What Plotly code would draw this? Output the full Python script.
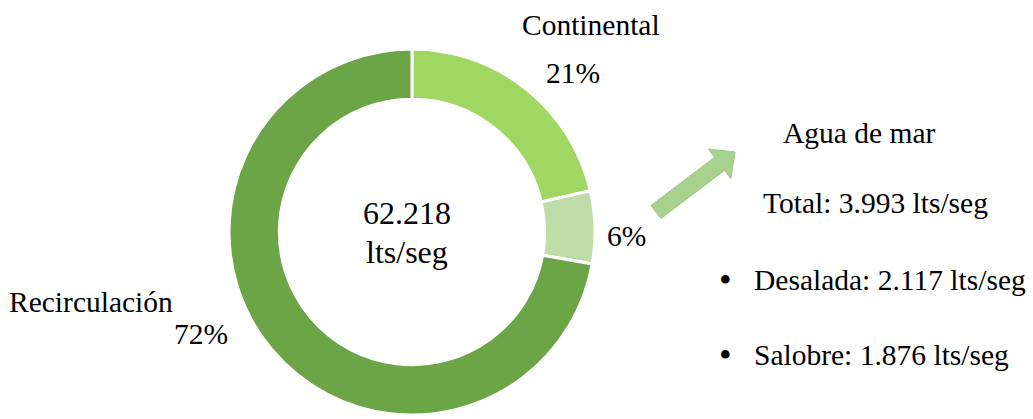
import plotly.graph_objects as go

labels = ["Continental", "Agua de mar", "Recirculación"]
values = [13.300, 3.993, 44.925]
colors = ["#A0D662", "#BEDCA8", "#6BA545"]
total_text = ["62.218", "lts/seg"]
mar_title = "Agua de mar"
mar_total = "Total: 3.993 lts/seg"
mar_items = ["Desalada: 2.117 lts/seg", "Salobre: 1.876 lts/seg"]

W, H = 1033, 419
FONT = "Liberation Serif, Times New Roman, serif"


def px(x):
    return x / W


def py(y):
    return 1 - y / H


total = sum(values)
pct = [f"{round(v / total * 100)}%" for v in values]

fig = go.Figure(go.Pie(
    labels=labels, values=values, sort=False, direction="clockwise",
    rotation=0, hole=0.725, textinfo="none", hoverinfo="label+percent",
    marker=dict(colors=colors, line=dict(color="white", width=3)),
    domain=dict(x=[px(229), px(595)], y=[py(415), py(49)]),
    showlegend=False,
))

ann = []


def add(text, x, y, size=29.5, xanchor="center"):
    ann.append(dict(text=text, x=px(x), y=py(y), xref="paper", yref="paper",
                    showarrow=False, xanchor=xanchor, yanchor="middle",
                    font=dict(family=FONT, size=size, color="#000000")))


add(labels[0], 591, 25)
add(pct[0], 573, 73)
add(pct[1], 605, 236, xanchor="left")
add(labels[2], 7, 302, xanchor="left")
add(pct[2], 230, 334, xanchor="right")
add(total_text[0], 407, 213, 32)
add(total_text[1], 407, 252, 32)
add(mar_title, 859, 133)
add(mar_total, 875, 203)
add("•", 725, 280, 36)
add(mar_items[0], 752, 280, xanchor="left")
add("•", 725, 355, 36)
add(mar_items[1], 752, 355, xanchor="left")

pts = [(661.0, 218.5), (724.6, 170.3), (730.9, 178.6), (735, 152),
       (708.3, 149.0), (714.6, 157.3), (651.0, 205.5)]
path = "M " + " L ".join(f"{px(x):.5f},{py(y):.5f}" for x, y in pts) + " Z"

fig.update_layout(
    width=W, height=H, margin=dict(l=0, r=0, t=0, b=0),
    paper_bgcolor="white", plot_bgcolor="white",
    annotations=ann,
    shapes=[dict(type="path", path=path, xref="paper", yref="paper",
                 fillcolor="#A9D18E", line=dict(color="#9CC982", width=1))],
)

fig.write_html(
    "out.html",
    config={"displayModeBar": False},
    post_script="document.body.style.margin='0';"
                "document.body.style.overflow='hidden';",
)
